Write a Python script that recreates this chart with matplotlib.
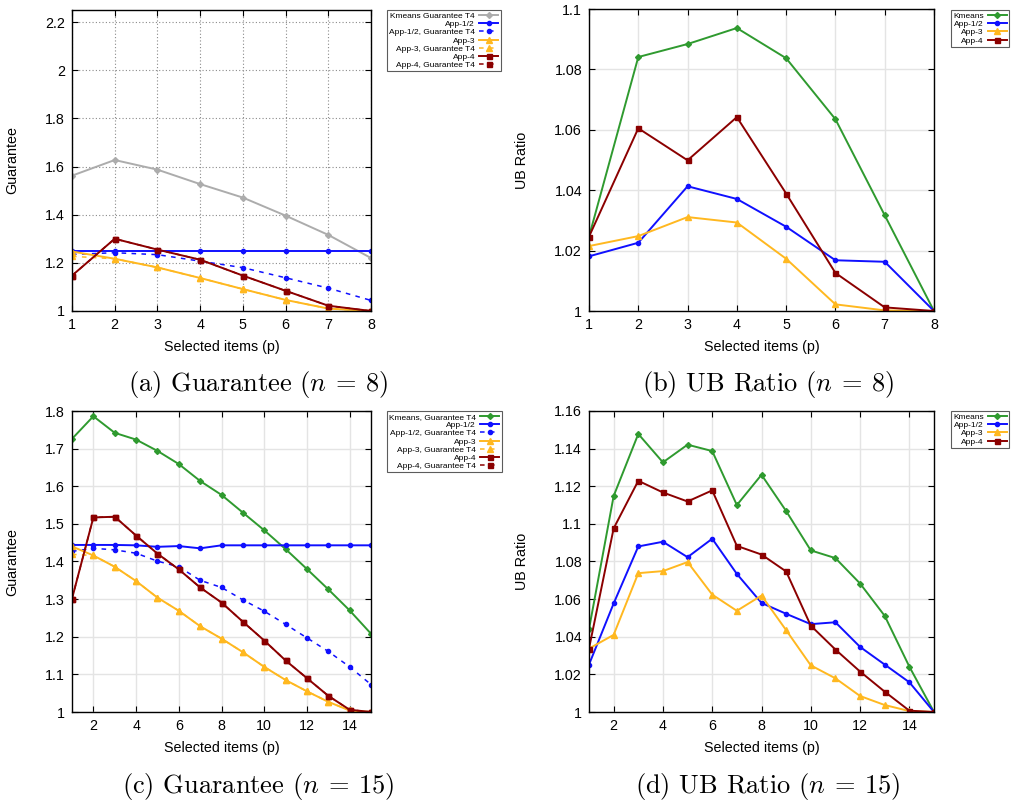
import numpy as np
import matplotlib
matplotlib.use('Agg')
from matplotlib import pyplot as plt
from matplotlib.ticker import FuncFormatter

plt.rcParams['font.family'] = ['Liberation Sans', 'DejaVu Sans']
plt.rcParams['mathtext.fontset'] = 'cm'

W, H = 1017, 805

# ---- data: (a) Guarantee, n = 8 ----
p8 = [1, 2, 3, 4, 5, 6, 7, 8]
a_kmeans_t4 = [1.562, 1.627, 1.587, 1.527, 1.471, 1.396, 1.316, 1.220]
a_app12 = [1.249, 1.249, 1.249, 1.249, 1.249, 1.249, 1.249, 1.249]
a_app12_t4 = [1.235, 1.242, 1.234, 1.207, 1.180, 1.138, 1.095, 1.044]
a_app3 = [1.247, 1.217, 1.181, 1.137, 1.091, 1.046, 1.010, 1.000]
a_app3_t4 = [1.227, 1.217, 1.181, 1.137, 1.091, 1.046, 1.010, 1.000]
a_app4 = [1.147, 1.300, 1.255, 1.213, 1.147, 1.084, 1.022, 1.000]
a_app4_t4 = [1.147, 1.300, 1.255, 1.213, 1.147, 1.084, 1.022, 1.000]

# ---- data: (b) UB Ratio, n = 8 ----
b_kmeans = [1.0246, 1.0841, 1.0884, 1.0937, 1.0837, 1.0635, 1.0317, 1.0000]
b_app12 = [1.0181, 1.0226, 1.0413, 1.0371, 1.0279, 1.0168, 1.0163, 1.0000]
b_app3 = [1.0215, 1.0248, 1.0311, 1.0293, 1.0173, 1.0022, 1.0002, 1.0000]
b_app4 = [1.0246, 1.0605, 1.0499, 1.0642, 1.0389, 1.0126, 1.0012, 1.0000]

# ---- data: (c) Guarantee, n = 15 ----
p15 = list(range(1, 16))
c_kmeans_t4 = [1.726, 1.786, 1.742, 1.724, 1.694, 1.659, 1.614, 1.577, 1.530,
               1.483, 1.433, 1.380, 1.326, 1.270, 1.208]
c_app12 = [1.444, 1.444, 1.444, 1.443, 1.439, 1.441, 1.435, 1.443, 1.443,
           1.443, 1.443, 1.443, 1.443, 1.443, 1.443]
c_app12_t4 = [1.427, 1.435, 1.431, 1.422, 1.401, 1.386, 1.350, 1.331, 1.298,
              1.268, 1.233, 1.197, 1.161, 1.120, 1.073]
c_app3 = [1.440, 1.416, 1.386, 1.348, 1.304, 1.269, 1.228, 1.195, 1.159,
          1.120, 1.085, 1.055, 1.027, 1.004, 1.000]
c_app3_t4 = [1.419, 1.416, 1.386, 1.348, 1.304, 1.269, 1.228, 1.195, 1.159,
             1.120, 1.085, 1.055, 1.027, 1.004, 1.000]
c_app4 = [1.301, 1.517, 1.519, 1.469, 1.421, 1.379, 1.331, 1.291, 1.240,
          1.190, 1.137, 1.090, 1.043, 1.006, 1.000]
c_app4_t4 = [1.301, 1.517, 1.519, 1.469, 1.421, 1.379, 1.331, 1.291, 1.240,
             1.190, 1.137, 1.090, 1.043, 1.006, 1.000]

# ---- data: (d) UB Ratio, n = 15 ----
d_kmeans = [1.0440, 1.1148, 1.1478, 1.1327, 1.1421, 1.1387, 1.1100, 1.1261,
            1.1068, 1.0859, 1.0818, 1.0683, 1.0511, 1.0241, 1.0000]
d_app12 = [1.0252, 1.0577, 1.0880, 1.0905, 1.0823, 1.0921, 1.0734, 1.0580,
           1.0522, 1.0467, 1.0477, 1.0346, 1.0252, 1.0158, 1.0000]
d_app3 = [1.0337, 1.0410, 1.0738, 1.0749, 1.0797, 1.0624, 1.0538, 1.0619,
          1.0435, 1.0248, 1.0179, 1.0085, 1.0037, 1.0005, 1.0000]
d_app4 = [1.0337, 1.0976, 1.1229, 1.1167, 1.1119, 1.1178, 1.0883, 1.0837,
          1.0747, 1.0459, 1.0332, 1.0215, 1.0108, 1.0007, 1.0000]

GRAY = '#acacac'
GREEN = '#2f9a2f'
BLUE = '#1010ff'
ORANGE = '#ffb820'
RED = '#8b0000'


def px_axes(left, top, right, bottom):
    return fig.add_axes([left / W, 1 - bottom / H, (right - left) / W, (bottom - top) / H])


def draw_series(ax, x, y, label, color, marker, ms, dashed=False):
    ls = (0, (3, 3.5)) if dashed else '-'
    ax.plot(x, y, color=color, lw=1.1 if dashed else 1.4, ls=ls, marker=marker,
            ms=ms, mec=color, mfc=color, label=label)


def style_axes(ax, xlim, xticks, ylim, yticks, ylabel, dotted_grid, legend_xy):
    ax.set_xlim(*xlim)
    ax.set_ylim(*ylim)
    ax.set_xticks(xticks)
    ax.set_yticks(yticks)
    ax.yaxis.set_major_formatter(FuncFormatter(lambda v, pos: f'{round(v, 4):g}'))
    ax.tick_params(direction='in', top=True, right=True, length=4, width=0.8,
                   labelsize=10.3, pad=5)
    for sp in ax.spines.values():
        sp.set_linewidth(1.0)
        sp.set_color('black')
    if dotted_grid:
        ax.grid(True, color='#8a8a8a', ls=(0, (1, 2)), lw=0.8)
    else:
        ax.grid(True, color='#e4e4e4', ls='-', lw=1.0)
    ax.set_axisbelow(True)
    ax.set_xlabel('Selected items (p)', fontsize=10.3)
    ax.set_ylabel(ylabel, fontsize=10.3)
    ax.xaxis.set_label_coords(0.5, -0.095)
    ax.yaxis.set_label_coords(-0.175, 0.5)
    leg = ax.legend(loc='upper left', bbox_to_anchor=(legend_xy[0] / W, 1 - legend_xy[1] / H),
                    bbox_transform=fig.transFigure, markerfirst=False, fontsize=6,
                    frameon=True, fancybox=False, borderpad=0.25, labelspacing=0.05,
                    handlelength=2.3, handletextpad=0.5, borderaxespad=0)
    leg.get_frame().set_edgecolor('#333333')
    leg.get_frame().set_linewidth(0.8)


fig = plt.figure(figsize=(W / 100, H / 100), dpi=100)

# (a)
ax = px_axes(72, 10, 371, 311)
draw_series(ax, p8, a_kmeans_t4, 'Kmeans Guarantee T4', GRAY, 'D', 3)
draw_series(ax, p8, a_app12, 'App-1/2', BLUE, 'o', 3)
draw_series(ax, p8, a_app12_t4, 'App-1/2, Guarantee T4', BLUE, 'o', 3, dashed=True)
draw_series(ax, p8, a_app3, 'App-3', ORANGE, '^', 3.8)
draw_series(ax, p8, a_app3_t4, 'App-3, Guarantee T4', ORANGE, '^', 3.8, dashed=True)
draw_series(ax, p8, a_app4, 'App-4', RED, 's', 3.6)
draw_series(ax, p8, a_app4_t4, 'App-4, Guarantee T4', RED, 's', 3.6, dashed=True)
style_axes(ax, (1, 8), p8, (1, 2.25), np.arange(1, 2.21, 0.2), 'Guarantee', True, (387, 10))

# (b)
ax = px_axes(589, 9, 934, 311)
draw_series(ax, p8, b_kmeans, 'Kmeans', GREEN, 'D', 3)
draw_series(ax, p8, b_app12, 'App-1/2', BLUE, 'o', 3)
draw_series(ax, p8, b_app3, 'App-3', ORANGE, '^', 3.8)
draw_series(ax, p8, b_app4, 'App-4', RED, 's', 3.6)
style_axes(ax, (1, 8), p8, (1, 1.1), np.arange(1, 1.101, 0.02), 'UB Ratio', False, (951, 10))

# (c)
ax = px_axes(72, 411, 371, 712)
draw_series(ax, p15, c_kmeans_t4, 'Kmeans, Guarantee T4', GREEN, 'D', 3)
draw_series(ax, p15, c_app12, 'App-1/2', BLUE, 'o', 3)
draw_series(ax, p15, c_app12_t4, 'App-1/2, Guarantee T4', BLUE, 'o', 3, dashed=True)
draw_series(ax, p15, c_app3, 'App-3', ORANGE, '^', 3.8)
draw_series(ax, p15, c_app3_t4, 'App-3, Guarantee T4', ORANGE, '^', 3.8, dashed=True)
draw_series(ax, p15, c_app4, 'App-4', RED, 's', 3.6)
draw_series(ax, p15, c_app4_t4, 'App-4, Guarantee T4', RED, 's', 3.6, dashed=True)
style_axes(ax, (1, 15), range(2, 15, 2), (1, 1.8), np.arange(1, 1.801, 0.1), 'Guarantee', False, (387, 411))

# (d)
ax = px_axes(589, 411, 934, 712)
draw_series(ax, p15, d_kmeans, 'Kmeans', GREEN, 'D', 3)
draw_series(ax, p15, d_app12, 'App-1/2', BLUE, 'o', 3)
draw_series(ax, p15, d_app3, 'App-3', ORANGE, '^', 3.8)
draw_series(ax, p15, d_app4, 'App-4', RED, 's', 3.6)
style_axes(ax, (1, 15), range(2, 15, 2), (1, 1.16), np.arange(1, 1.161, 0.02), 'UB Ratio', False, (951, 411))

# captions
captions = [(258, 384, r'(a) Guarantee ($n\:=\:8$)'),
            (768, 384, r'(b) UB Ratio ($n\:=\:8$)'),
            (258, 786, r'(c) Guarantee ($n\:=\:15$)'),
            (768, 786, r'(d) UB Ratio ($n\:=\:15$)')]
for cx, cy, txt in captions:
    fig.text(cx / W, 1 - cy / H, txt, ha='center', va='center', family='cmr10', fontsize=19)

fig.savefig('out.png', dpi=100)
